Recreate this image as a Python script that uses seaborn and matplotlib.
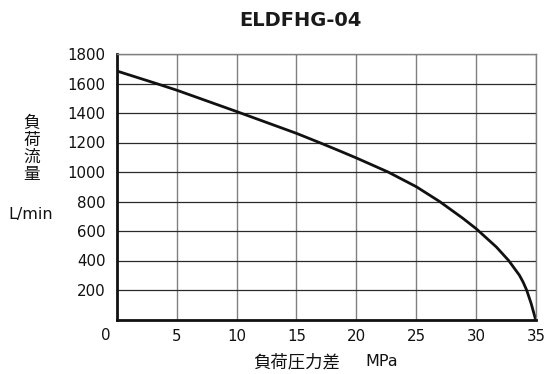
import matplotlib
matplotlib.use("Agg")
import matplotlib.pyplot as plt
import seaborn as sns
import pandas as pd

# data
pressure = [0, 3.3, 5, 10, 15, 16.9, 18.6, 20, 22.64, 25, 26.94, 28.9, 30, 31.67,
            32.7, 33.6, 33.9, 34.2, 34.58, 34.95]
flow = [1685, 1600, 1555, 1410, 1262, 1200, 1143, 1095, 1000, 900, 800, 685, 615, 492,
        400, 300, 255, 200, 108, 0]
x_ticks = [0, 5, 10, 15, 20, 25, 30, 35]
x_ticklabels = ["", "5", "10", "15", "20", "25", "30", "35"]
y_ticks = [200, 400, 600, 800, 1000, 1200, 1400, 1600, 1800]
title = "ELDFHG-04"
xlabel_jp = "負荷圧力差"
xlabel_unit = "MPa"
ylabel_chars = "負荷流量"
unit = "L/min"

sns.set_style("white")
plt.rcParams['font.family'] = ['Noto Sans CJK JP', 'DejaVu Sans']

fig = plt.figure(figsize=(5.47, 3.74), dpi=100)
ax = fig.add_axes([116.7/547, (374-319.5)/374, 419.5/547, 265.5/374])

df = pd.DataFrame({"p": pressure, "q": flow})
sns.lineplot(data=df, x="p", y="q", ax=ax, color="#111111", linewidth=2.0,
             solid_joinstyle='round', solid_capstyle='round')

ax.set_xlim(0, 35)
ax.set_ylim(0, 1800)
ax.set_xticks(x_ticks)
ax.set_yticks(y_ticks)
ax.set_xticklabels(x_ticklabels, family=['DejaVu Sans'], fontsize=10.8)
ax.set_yticklabels([str(v) for v in y_ticks], family=['DejaVu Sans'], fontsize=10.8)
ax.tick_params(axis='both', length=0, colors='#111111')
ax.tick_params(axis='x', pad=7)
ax.tick_params(axis='y', pad=8)

for v in x_ticks[1:]:
    ax.axvline(v, color='#808080', linewidth=1.0, zorder=0)
for v in y_ticks:
    ax.axhline(v, color='#2a2a2a', linewidth=0.9, zorder=0)

for side in ['top', 'right']:
    ax.spines[side].set_color('#808080')
    ax.spines[side].set_linewidth(1.0)
for side in ['left', 'bottom']:
    ax.spines[side].set_color('#111111')
    ax.spines[side].set_linewidth(2.0)

ax.set_xlabel("")
ax.set_ylabel("")

fig.text(300/547, 1 - 20.5/374, title, ha='center', va='center', fontsize=14,
         fontweight='bold', family=['DejaVu Sans'], color='#1a1a1a')
fig.text(297/547, 1 - 362/374, xlabel_jp, ha='center', va='center', fontsize=12.5, color='#111111')
fig.text(382/547, 1 - 362/374, xlabel_unit, ha='center', va='center', fontsize=11.5,
         family=['DejaVu Sans'], color='#111111')
fig.text(32/547, 1 - 149/374, "\n".join(ylabel_chars), ha='center', va='center', fontsize=12,
         linespacing=1.0, color='#111111')
fig.text(31/547, 1 - 215/374, unit, ha='center', va='center', fontsize=11.5,
         family=['DejaVu Sans'], color='#111111')
fig.text(110/547, 1 - 335/374, "0", ha='right', va='center', fontsize=10.8,
         family=['DejaVu Sans'], color='#111111')

fig.savefig("out.png", dpi=100)
